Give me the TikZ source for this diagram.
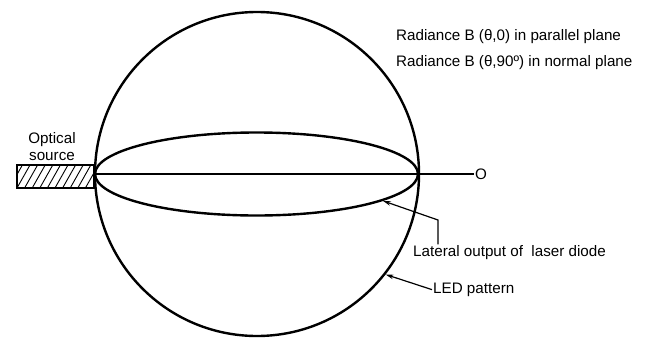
\documentclass[tikz,border=0pt]{standalone}
\usepackage{fontspec}
\setmainfont{Liberation Sans}
\usetikzlibrary{shapes.geometric,arrows.meta}
\begin{document}
\begin{tikzpicture}[x=1pt,y=-1pt,
  lbl/.style={font=\fontsize{15.2pt}{17pt}\selectfont, inner sep=1pt, anchor=base west},
  thick line/.style={line width=2.4pt},
  leader/.style={line width=1.2pt, -{Stealth[length=8pt,width=4.5pt]}},
  hatchbox/.style={draw, line width=1.2pt, minimum width=77pt, minimum height=23pt, inner sep=0pt,
    path picture={\foreach \i in {-3,...,11} \draw[line width=0.9pt] ([xshift=\i*7.6pt]path picture bounding box.south west) -- ++(13pt,23pt);}}]
\useasboundingbox (0,0) rectangle (663,340);
% source
\node[hatchbox] (src) at (55.5,176.5) {};
\node[font=\fontsize{15.2pt}{17pt}\selectfont, align=center, inner sep=0pt, anchor=base] (srclbl) at (52,160) {Optical\\source};
% patterns
\node[draw, circle, minimum size=324pt, inner sep=0pt, thick line] (led) at (257,174) {};
\node[draw, ellipse, minimum width=323pt, minimum height=83pt, inner sep=0pt, thick line] (laser) at (256.5,174) {};
% axis
\node[lbl, anchor=west] (O) at (474,174) {O};
\draw[line width=1.3pt] (laser.west) -- (O.west);
% labels
\node[lbl] (r1) at (395,40.7) {Radiance B (θ,0) in parallel plane};
\node[lbl] (r2) at (395,66) {Radiance B (θ,90º) in normal plane};
\node[lbl] (lat) at (412,256.7) {Lateral output of\ \ laser diode};
\node[lbl] (ledl) at (432,293.3) {LED pattern};
% leaders
\coordinate (b1) at (438,220);
\draw[leader] ([xshift=26pt]lat.north west) -- (b1) -- (laser.-12.75);
\draw[leader] (ledl.west) -- (led.-38.4);
\end{tikzpicture}
\end{document}
